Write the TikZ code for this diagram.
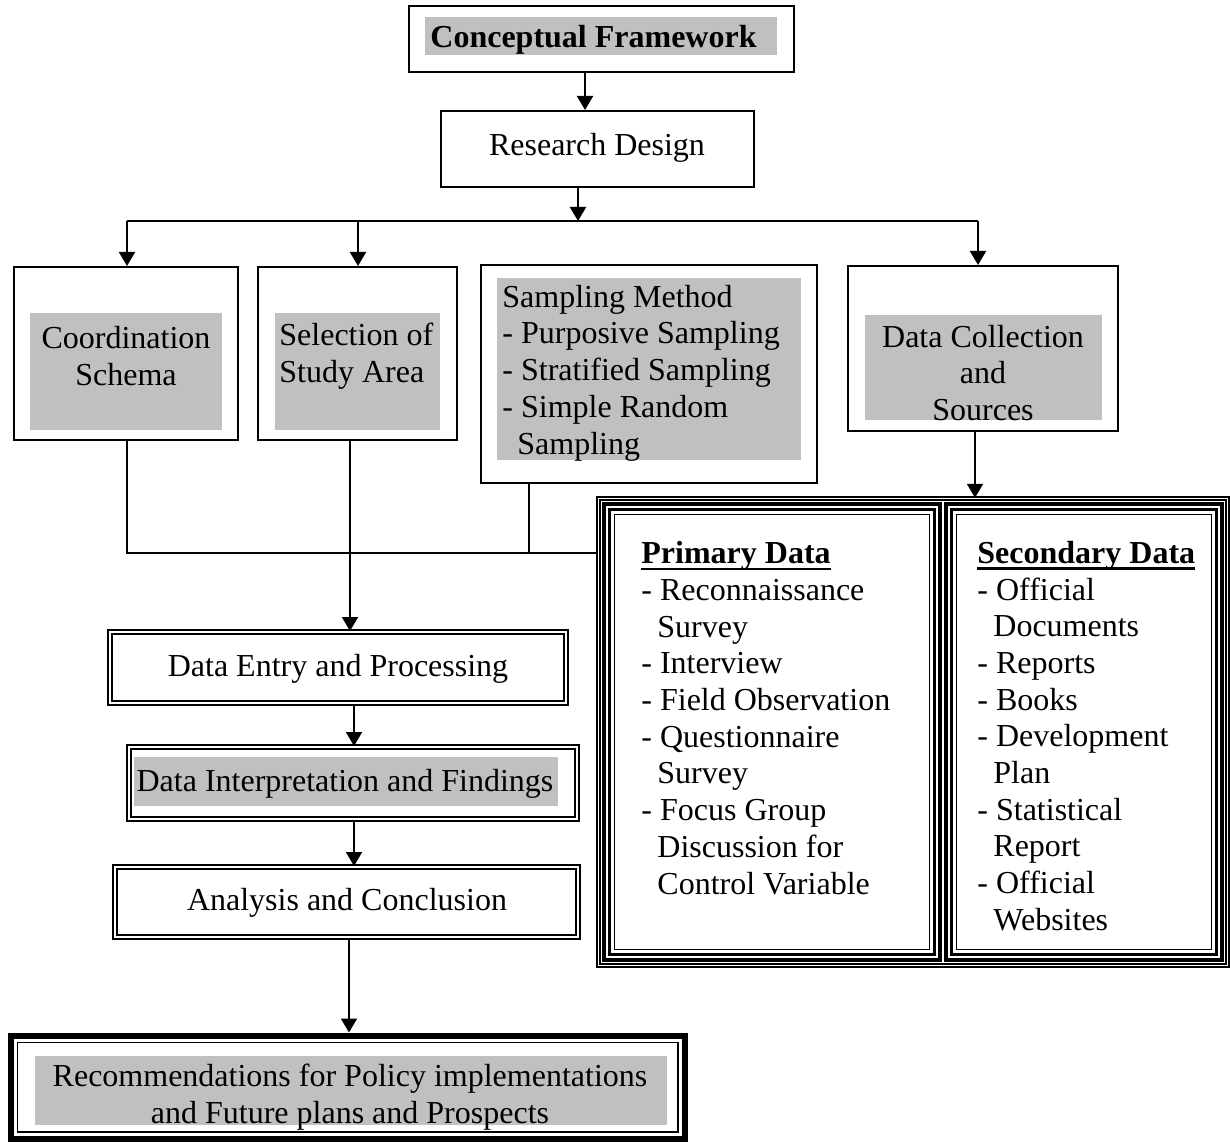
\documentclass[tikz,border=0pt]{standalone}
\usepackage{fontspec}
\setmainfont{Liberation Serif}
\usetikzlibrary{arrows.meta,fit}
\definecolor{hlgray}{RGB}{192,192,192}
\newcommand\thickul[1]{\setbox0\hbox{#1}\rlap{\rule[-3.2pt]{\wd0}{1.2pt}}\box0}
\begin{document}
\begin{tikzpicture}[x=0.5pt,y=-0.5pt,
  frame/.style={draw, line width=1pt, inner sep=0pt},
  dbl/.style={draw, line width=1pt, double, double distance=1.4pt, inner sep=0pt},
  thinframe/.style={draw, line width=0.7pt, inner sep=0pt},
  thickframe/.style={draw, line width=1.7pt, inner sep=0pt},
  hl/.style={fill=hlgray, draw=none, inner sep=0pt},
  txt/.style={inner sep=0pt, font=\fontsize{16}{18.35}\selectfont},
  arr/.style={line width=1pt, -{Triangle[width=8pt,length=7pt]}},
  ln/.style={line width=1pt}]
\useasboundingbox (0,0) rectangle (1230,1143);

% ---------- highlights ----------
\node[hl, fit={(425,17) (777,55)}] (cf-hl) {};
\node[hl, fit={(30,313) (222,430)}] (cs-hl) {};
\node[hl, fit={(275,313) (440,430)}] (sa-hl) {};
\node[hl, fit={(497,278) (801,460)}] (sm-hl) {};
\node[hl, fit={(865,315) (1102,420)}] (dc-hl) {};
\node[hl, fit={(134,757) (558,806)}] (di-hl) {};
\node[hl, fit={(35,1056) (667,1125)}] (rec-hl) {};

% ---------- boxes ----------
\node[frame, line width=1.3pt, fit={(409,6) (794,72)}] (cf) {};
\node[frame, fit={(441,111) (754,187)}] (rd) {};
\node[frame, fit={(14,267) (238,440)}] (cs) {};
\node[frame, fit={(258,267) (457,440)}] (sa) {};
\node[frame, fit={(481,265) (817,483)}] (sm) {};
\node[frame, fit={(848,266) (1118,431)}] (dc) {};

\node[draw, line width=0.7pt, double, double distance=0.9pt, inner sep=0pt,
      fit={(598.5,498.5) (1227.5,965.5)}] (big) {};
\node[thickframe, fit={(604,504) (940,960)}] (prim1) {};
\node[thickframe, fit={(609.5,509.5) (934.5,954.5)}] (prim2) {};
\node[thinframe, fit={(614.5,514.5) (929.5,949.5)}] (prim) {};
\node[thickframe, fit={(946,504) (1222,960)}] (sec1) {};
\node[thickframe, fit={(951.5,509.5) (1216.5,954.5)}] (sec2) {};
\node[thinframe, fit={(956.5,514.5) (1211.5,949.5)}] (sec) {};

\node[dbl, fit={(110,632) (566,703)}] (de) {};
\node[dbl, fit={(129,747) (577,819)}] (di) {};
\node[dbl, fit={(115,867) (578,937)}] (ac) {};

\node[draw, line width=3pt, inner sep=0pt, fit={(10.5,1035.5) (685,1139)}] (rec) {};
\node[draw, line width=0.7pt, inner sep=0pt, fit={(17.5,1042.5) (678,1132)}] (rec-in) {};

% ---------- texts ----------
\node[txt, anchor=west] (cf-t) at (430,40) {\textbf{Conceptual Framework}};
\node[txt] (rd-t) at (597,148) {Research Design};
\node[txt, align=center] (cs-t) at (126,356) {Coordination\\Schema};
\node[txt, align=left, anchor=west] (sa-t) at (279,356) {Selection of\\Study Area};
\node[txt, align=left, anchor=west] (sm-t) at (502,373) {Sampling Method\\- Purposive Sampling\\- Stratified Sampling\\- Simple Random\\\hspace*{7.5pt}Sampling};
\node[txt, align=center] (dc-t) at (983,373) {Data Collection\\and\\Sources};
\node[txt, align=left, anchor=west] (prim-t) at (641,718) {\thickul{\textbf{Primary Data}}\\- Reconnaissance\\\hspace*{8pt}Survey\\- Interview\\- Field Observation\\- Questionnaire\\\hspace*{8pt}Survey\\- Focus Group\\\hspace*{8pt}Discussion for\\\hspace*{8pt}Control Variable};
\node[txt, align=left, anchor=west] (sec-t) at (977,736) {\thickul{\textbf{Secondary Data}}\\- Official\\\hspace*{8pt}Documents\\- Reports\\- Books\\- Development\\\hspace*{8pt}Plan\\- Statistical\\\hspace*{8pt}Report\\- Official\\\hspace*{8pt}Websites};
\node[txt] (de-t) at (338,669) {Data Entry and Processing};
\node[txt] (di-t) at (345,784) {Data Interpretation and Findings};
\node[txt] (ac-t) at (347,903) {Analysis and Conclusion};
\node[txt, align=center] (rec-t) at (350,1097) {Recommendations for Policy implementations\\and Future plans and Prospects};

% ---------- connectors ----------
\draw[arr] (585,0 |- cf.south) -- (585,0 |- rd.north);
\coordinate (busL) at (127,221);
\coordinate (busM) at (358,221);
\coordinate (busC) at (578,221);
\coordinate (busR) at (978,221);
\draw[arr] (578,0 |- rd.south) -- (busC);
\draw[ln] (busL) -- (busR);
\draw[arr] (busL) -- (busL |- cs.north);
\draw[arr] (busM) -- (busM |- sa.north);
\draw[arr] (busR) -- (busR |- dc.north);

\draw[arr] (975,0 |- dc.south) -- (975,0 |- big.north);

\coordinate (jL) at (127,553);
\coordinate (jM) at (529,553);
\draw[ln] (127,0 |- cs.south) -- (jL) -- (jL -| big.west);
\draw[ln] (529,0 |- sm.south) -- (jM);
\draw[arr] (350,0 |- sa.south) -- (350,0 |- de.north);
\draw[arr] (354,0 |- de.south) -- (354,0 |- di.north);
\draw[arr] (354,0 |- di.south) -- (354,0 |- ac.north);
\draw[arr] (349,0 |- ac.south) -- (349,0 |- rec.north);
\end{tikzpicture}
\end{document}
